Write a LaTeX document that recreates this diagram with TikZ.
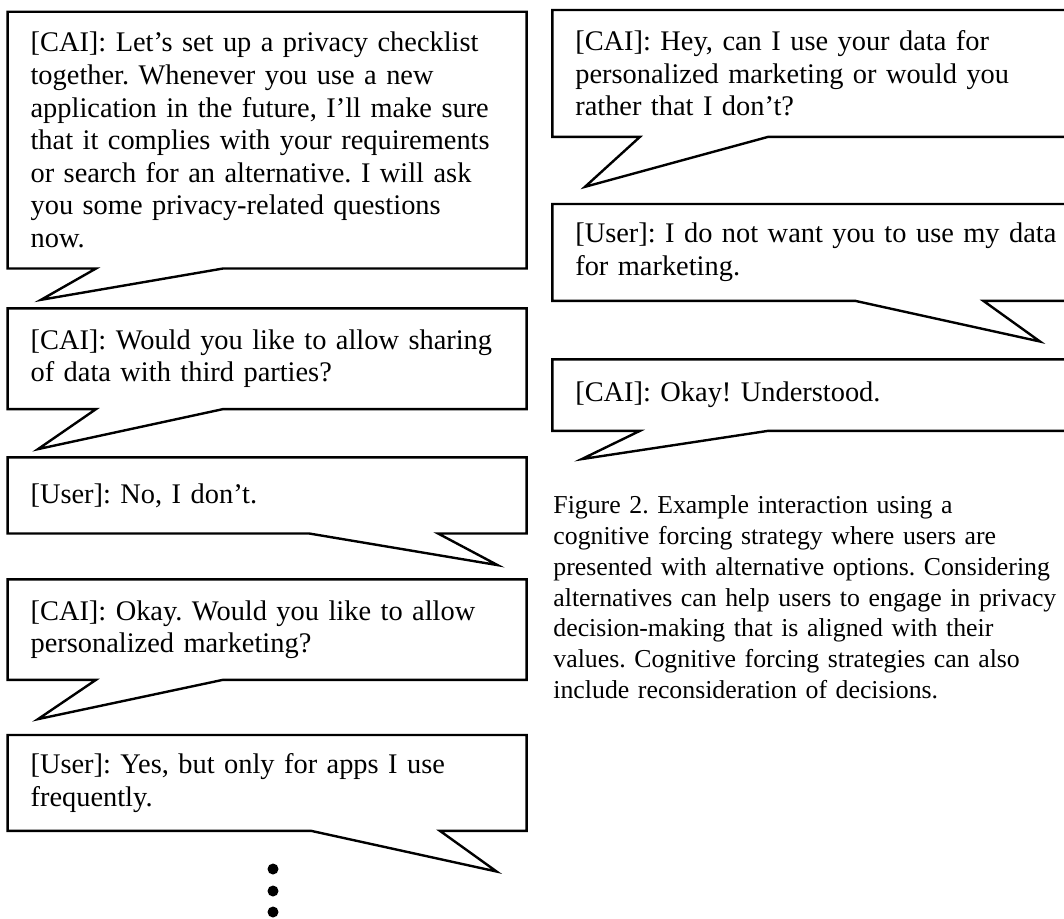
\documentclass[tikz,border=0pt]{standalone}
\usepackage{fontspec}
\setmainfont{Liberation Serif}
\usetikzlibrary{calc}
\frenchspacing
\tikzset{
  msg/.style={anchor=north west, inner xsep=11.3pt, inner ysep=0pt, align=left, font=\fontsize{14.2}{16.3}\selectfont},
  lmsg/.style={msg, text width=236.5pt},
  rmsg/.style={msg, text width=250pt},
  outline/.style={draw=black, line width=1.2pt, line join=miter},
  dotmark/.style={circle, fill=black, inner sep=0pt, minimum size=5.5pt},
  capt/.style={anchor=north west, inner sep=0pt, align=left, text width=270pt, font=\fontsize{12.9}{15.45}\selectfont},
}

\begin{document}
\begin{tikzpicture}[x=0.5pt, y=-0.5pt]
  \useasboundingbox (0,0) rectangle (1064,918);
  \clip (0,0) rectangle (1064,918);

  % --- Left column: checklist dialogue ---
  \node[lmsg, minimum height=128pt] (b1) at (7.6,11.7) {[CAI]: Let’s set up a privacy checklist\\together. Whenever you use a new\\application in the future, I’ll make sure\\that it complies with your requirements\\or search for an alternative. I will ask\\you some privacy-related questions\\now.};
  \node[lmsg, minimum height=50pt] (b2) at (7.6,308.3) {[CAI]: Would you like to allow sharing\\of data with third parties?};
  \node[lmsg, minimum height=37.7pt] (b3) at (7.6,457.3) {[User]: No, I don’t.};
  \node[lmsg, minimum height=49.85pt] (b4) at (7.6,579.3) {[CAI]: Okay. Would you like to allow\\personalized marketing?};
  \node[lmsg, minimum height=47.5pt] (b5) at (7.6,735) {[User]: Yes, but only for apps I use\\frequently.};

  \draw[outline] (b1.south west) -- (b1.north west) -- (b1.north east) -- (b1.south east)
    -- ($(b1.south west)+(215.4,0)$) -- ($(b1.south west)+(33.4,31.3)$) -- ($(b1.south west)+(88.4,0)$) -- cycle;
  \draw[outline] (b2.south west) -- (b2.north west) -- (b2.north east) -- (b2.south east)
    -- ($(b2.south west)+(215.4,0)$) -- ($(b2.south west)+(30.4,40)$) -- ($(b2.south west)+(88.4,0)$) -- cycle;
  \draw[outline] (b3.south west) -- (b3.north west) -- (b3.north east) -- (b3.south east)
    -- ($(b3.south west)+(430.5,0)$) -- ($(b3.south west)+(490,31.6)$) -- ($(b3.south west)+(301.7,0)$) -- cycle;
  \draw[outline] (b4.south west) -- (b4.north west) -- (b4.north east) -- (b4.south east)
    -- ($(b4.south west)+(215.4,0)$) -- ($(b4.south west)+(30.4,39.3)$) -- ($(b4.south west)+(88.4,0)$) -- cycle;
  \draw[outline] (b5.south west) -- (b5.north west) -- (b5.north east) -- (b5.south east)
    -- ($(b5.south west)+(432.3,0)$) -- ($(b5.south west)+(489,40.7)$) -- ($(b5.south west)+(303.4,0)$) -- cycle;

  % continuation dots
  \foreach \y [count=\i] in {869,891,912}
    \node[dotmark] (dot\i) at (273,\y) {};

  % --- Right column: marketing dialogue ---
  \node[rmsg, minimum height=63pt] (r1) at (552.3,10) {[CAI]: Hey, can I use your data for\\personalized marketing or would you\\rather that I don’t?};
  \node[rmsg, minimum height=48pt] (r2) at (552.3,204) {[User]: I do not want you to use my data\\for marketing.};
  \node[rmsg, minimum height=35.35pt] (r3) at (552.3,359.3) {[CAI]: Okay! Understood.};

  \draw[outline] (r1.south west) -- (r1.north west) -- (r1.north east) -- (r1.south east)
    -- ($(r1.south west)+(216,0)$) -- ($(r1.south west)+(32.7,50)$) -- ($(r1.south west)+(87.7,0)$) -- cycle;
  \draw[outline] (r2.south west) -- (r2.north west) -- (r2.north east) -- (r2.south east)
    -- ($(r2.south west)+(431,0)$) -- ($(r2.south west)+(487.7,40.7)$) -- ($(r2.south west)+(302.7,0)$) -- cycle;
  \draw[outline] (r3.south west) -- (r3.north west) -- (r3.north east) -- (r3.south east)
    -- ($(r3.south west)+(216,0)$) -- ($(r3.south west)+(29.4,28.3)$) -- ($(r3.south west)+(87.7,0)$) -- cycle;

  % Caption
  \node[capt] (cap) at (553,495) {Figure 2. Example interaction using a\\cognitive forcing strategy where users are\\presented with alternative options. Considering\\alternatives can help users to engage in privacy\\decision-making that is aligned with their\\values. Cognitive forcing strategies can also\\include reconsideration of decisions.};
\end{tikzpicture}
\end{document}
